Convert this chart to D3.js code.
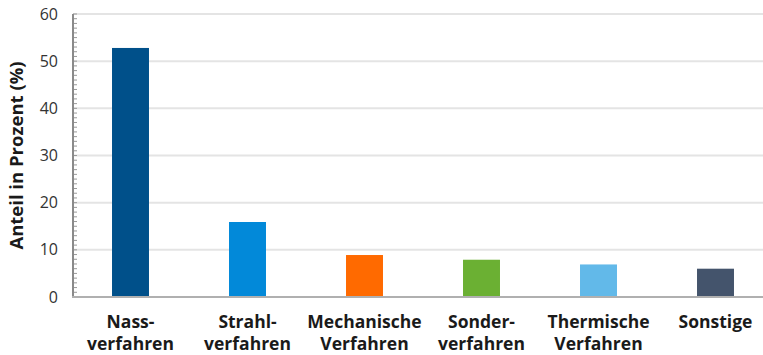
<!DOCTYPE html>
<html lang="de">
<head>
<meta charset="utf-8">
<style>
  body { margin: 0; background: #fff; }
  svg { font-family: 'Open Sans', 'Noto Sans', sans-serif; }
  .grid line { stroke: #e4e4e4; stroke-width: 2px; }
  .ytick text { fill: #333; font-size: 16px; }
  .xlab { fill: #1a1a1a; font-size: 17.5px; font-weight: bold; }
  .ytitle { fill: #1a1a1a; font-size: 18.5px; font-weight: bold; }
</style>
</head>
<body>
<svg width="763" height="355"></svg>
<script src="https://d3js.org/d3.v7.min.js"></script>
<script>
// data
const categories = [
  ["Nass-", "verfahren"],
  ["Strahl-", "verfahren"],
  ["Mechanische", "Verfahren"],
  ["Sonder-", "verfahren"],
  ["Thermische", "Verfahren"],
  ["Sonstige"]
];
const values = [52.8, 15.9, 8.9, 7.9, 6.9, 6.0];
const colors = ["#00508a", "#0289d9", "#ff6a00", "#6bb033", "#62b9e9", "#44546c"];
const yTicks = [0, 10, 20, 30, 40, 50, 60];

const svg = d3.select("svg");
const x0 = 73, yTop = 14, yBot = 297;

const x = d3.scaleBand()
  .domain(d3.range(categories.length))
  .range([72, 774])
  .paddingInner(0.684)
  .paddingOuter(0.342);

const y = d3.scaleLinear().domain([0, 60]).range([yBot, yTop]);

// grid
svg.append("g").attr("class", "grid")
  .selectAll("line").data(yTicks.filter(d => d > 0)).enter().append("line")
  .attr("x1", x0).attr("x2", 763)
  .attr("y1", d => y(d)).attr("y2", d => y(d));

// bars
svg.append("g").selectAll("rect").data(values).enter().append("rect")
  .attr("x", (d, i) => x(i))
  .attr("width", x.bandwidth())
  .attr("y", d => y(d))
  .attr("height", d => y(0) - y(d))
  .attr("fill", (d, i) => colors[i]);

// minor ticks every unit
svg.append("g").selectAll("line").data(d3.range(0, 61)).enter().append("line")
  .attr("x1", x0).attr("x2", x0 + 4)
  .attr("y1", d => y(d)).attr("y2", d => y(d))
  .attr("stroke", "#999").attr("stroke-width", 1);

// axes lines
svg.append("line").attr("x1", x0).attr("x2", x0).attr("y1", yTop).attr("y2", yBot + 1)
  .attr("stroke", "#8a8a8a").attr("stroke-width", 2);
svg.append("line").attr("x1", x0 - 1).attr("x2", 763).attr("y1", yBot).attr("y2", yBot)
  .attr("stroke", "#b0b0b0").attr("stroke-width", 2);

// y tick labels
svg.append("g").attr("class", "ytick")
  .selectAll("text").data(yTicks).enter().append("text")
  .attr("x", 58).attr("y", d => y(d)).attr("dy", "0.35em")
  .attr("text-anchor", "end")
  .text(d => d);

// x labels
const xl = svg.append("g").selectAll("text").data(categories).enter().append("text")
  .attr("class", "xlab")
  .attr("text-anchor", "middle")
  .attr("x", (d, i) => x(i) + x.bandwidth() / 2)
  .attr("y", 328);
xl.selectAll("tspan").data(d => d).enter().append("tspan")
  .attr("x", function() { return this.parentNode.getAttribute("x"); })
  .attr("dy", (d, i) => i ? 22 : 0)
  .text(d => d);

// y title
svg.append("text").attr("class", "ytitle")
  .attr("transform", "translate(23," + ((yTop + yBot) / 2) + ") rotate(-90)")
  .attr("text-anchor", "middle")
  .text("Anteil in Prozent (%)");
</script>
</body>
</html>
